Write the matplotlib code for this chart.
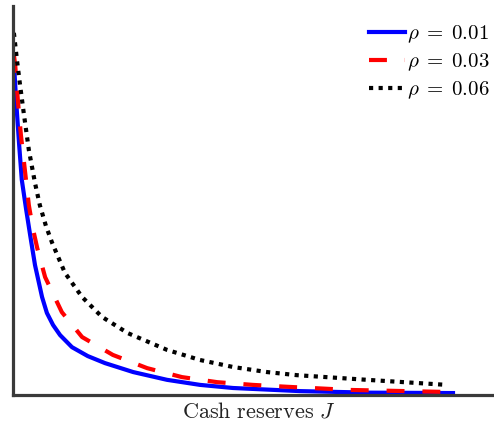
import matplotlib

matplotlib.use("Agg")
import matplotlib.pyplot as plt

plt.rcParams["mathtext.fontset"] = "cm"
plt.rcParams["font.family"] = "serif"

# valeurs (J normalisé, valeur normalisée)
j_01 = [0.002, 0.007, 0.014, 0.020, 0.030, 0.039, 0.050, 0.066, 0.077, 0.091,
        0.107, 0.134, 0.170, 0.209, 0.273, 0.350, 0.425, 0.500, 0.652, 0.811, 1.0]
v_01 = [0.856, 0.758, 0.643, 0.553, 0.476, 0.411, 0.334, 0.252, 0.211, 0.180,
        0.154, 0.123, 0.100, 0.082, 0.059, 0.039, 0.026, 0.018, 0.010, 0.006, 0.005]

j_03 = [0.002, 0.005, 0.011, 0.018, 0.027, 0.036, 0.045, 0.055, 0.073, 0.111,
        0.157, 0.227, 0.305, 0.384, 0.464, 0.545, 0.625, 0.766, 0.977]
v_03 = [0.874, 0.848, 0.758, 0.668, 0.578, 0.488, 0.429, 0.378, 0.303, 0.213,
        0.149, 0.103, 0.069, 0.046, 0.033, 0.026, 0.021, 0.013, 0.008]

j_06 = [0.002, 0.009, 0.016, 0.025, 0.036, 0.050, 0.061, 0.075, 0.089, 0.118,
        0.157, 0.202, 0.261, 0.350, 0.425, 0.500, 0.577, 0.645, 0.805, 0.986]
v_06 = [0.931, 0.861, 0.797, 0.720, 0.630, 0.545, 0.488, 0.434, 0.391, 0.314,
        0.252, 0.201, 0.159, 0.116, 0.090, 0.072, 0.059, 0.051, 0.039, 0.026]

labels = [r"$\rho\;=\;0.01$", r"$\rho\;=\;0.03$", r"$\rho\;=\;0.06$"]

fig = plt.figure(figsize=(4.94, 4.24), dpi=100)
ax = fig.add_axes([13 / 494, 29 / 424, 481 / 494, 389 / 424])

ax.plot(j_01, v_01, color="#0000ff", lw=3.0, label=labels[0])
ax.plot(j_03, v_03, color="#ff0000", lw=3.0, dashes=(4.3, 4.3), label=labels[1])
ax.plot(j_06, v_06, color="black", lw=3.0, dashes=(1, 1.3), label=labels[2])

ax.set_xlim(0, 481 / 440)
ax.set_ylim(0, 1)
ax.set_xticks([])
ax.set_yticks([])
for s in ("top", "right"):
    ax.spines[s].set_visible(False)
for s in ("left", "bottom"):
    ax.spines[s].set_linewidth(2.3)
    ax.spines[s].set_color("#3a3a3a")

ax.set_xlabel(r"$\mathrm{Cash\ reserves}\ J$", fontsize=16, color="#222222",
              labelpad=4, x=0.51)
ax.legend(loc="upper right", bbox_to_anchor=(0.99, 0.955), frameon=False,
          fontsize=15, handlelength=1.7, handletextpad=0.1, labelspacing=0.3,
          borderpad=0, borderaxespad=0)

fig.savefig("out.png", dpi=100)
